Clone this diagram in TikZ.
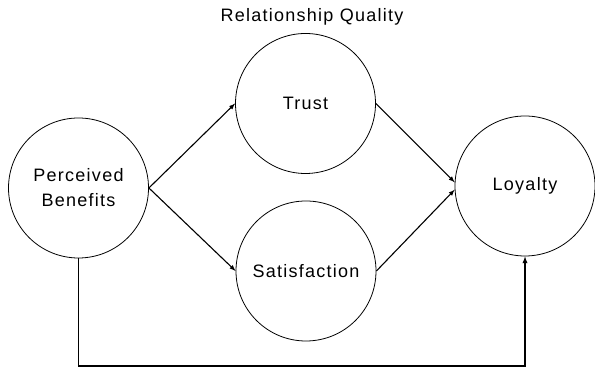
\documentclass[tikz,border=0pt]{standalone}
\usepackage{fontspec}
\setmainfont{Liberation Sans}[LetterSpace=7]
\usepackage{tikz}
\usetikzlibrary{arrows}
\tikzstyle{construct} = [draw, circle, line width=0.8pt, minimum size=140pt, inner sep=0pt, text centered, align=center, font=\fontsize{18}{25}\selectfont]
\tikzstyle{path} = [->, >=latex, line width=1.1pt]

\begin{document}
\begin{tikzpicture}[x=1pt,y=1pt]
	\useasboundingbox (0,0) rectangle (595,371);
	\node[construct] (benefits) at (78.5,183) {Perceived\\Benefits};
	\node[construct] (trust) at (305.5,267.5) {Trust};
	\node[construct] (satisfaction) at (306,100) {Satisfaction};
	\node[construct] (loyalty) at (525,185) {Loyalty};
	\node[font=\fontsize{18}{21}\selectfont] (quality) at (312,354) {Relationship Quality};
	\coordinate (base) at (300,5);
	\draw[path] (benefits.east) -- (trust.west);
	\draw[path] (benefits.east) -- (satisfaction.west);
	\draw[path] (trust.east) -- (loyalty.177);
	\draw[path] (satisfaction.east) -- (loyalty.183);
	\draw[path,line width=1.3pt] (benefits.south) |- (base) -| (loyalty.south);
\end{tikzpicture}
\end{document}
